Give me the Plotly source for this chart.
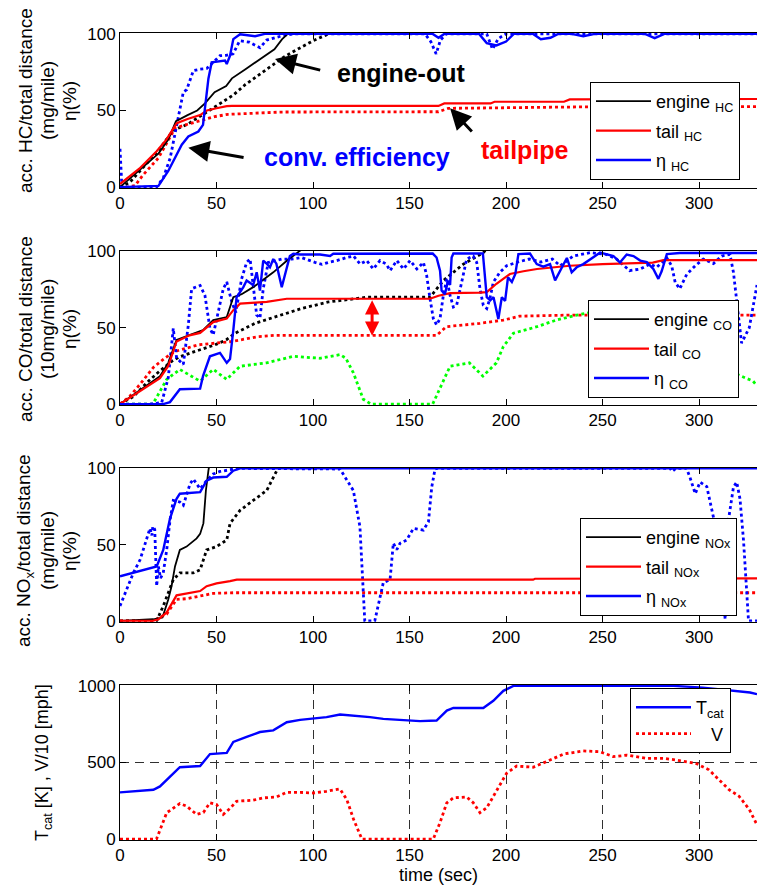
import plotly.graph_objects as go

# ---------------- data: (time [s], value) ----------------
# HC panel: accumulated emissions (mg/mile) and conversion efficiency (%)
hc_engine = [(0, 0), (10, 11), (20, 22), (25, 31), (29, 43), (35, 47), (40, 50), (44, 54.6), (49, 62),
             (55, 66), (58, 71), (65, 77), (73, 83.7), (80, 90), (84, 96.6), (87, 100), (92, 106)]
hc_engine_b = [(0, 0), (5, 3), (10, 10), (15, 17), (20, 24), (27.5, 37), (35, 41), (45, 49), (50, 53),
               (58.6, 60), (65, 67), (75, 76), (84.6, 84.7), (92, 90), (100, 95.5), (108, 100), (115, 105)]
hc_tail = [(0, 2), (10, 12), (19, 23.4), (24, 31), (29.4, 41.7), (35, 44.5), (41.5, 47), (45, 50),
           (50, 51.5), (55.3, 52.9), (58, 53), (165, 53), (168, 54.6), (192, 54.6), (194, 55.7),
           (230, 55.7), (233, 57.2), (330, 57.5)]
hc_tail_b = [(0, 0), (4, 0), (7.8, 1), (12, 8), (19.9, 19), (24, 28), (28.5, 38.5), (35, 41), (44, 43.9),
             (49, 46), (56, 47.5), (66.5, 48.2), (83.7, 49), (165, 49.2), (170, 51.4), (250, 52.5),
             (330, 52.5)]
hc_eta = [(0, 0), (19.9, 0.8), (25, 10.5), (28.5, 19), (32, 27.7), (35.4, 33), (40.6, 36.3), (43, 40.6),
          (44, 51.4), (45.8, 70.8), (47.5, 81.5), (54.4, 82.6), (55.3, 80.4), (57, 85.8), (58.7, 96.6),
          (62.2, 99.8), (70, 98.5), (75, 100), (162, 100), (165, 97.5), (168, 100), (186, 100),
          (190, 94), (195, 92.5), (200, 95), (204, 100), (214, 100), (218, 96.5), (223, 97.5),
          (227, 100), (234, 100), (240, 98.5), (246, 100), (272, 100), (277, 97.2), (282, 100),
          (330, 100)]
hc_eta_b = [(0, 25), (1, 0), (19, 0), (22.5, 6.2), (26, 19), (29.4, 40.6), (31, 51.4), (32.8, 62),
            (34.6, 63.7), (38, 76), (41.5, 77), (45, 77.5), (48.3, 81.5), (51.8, 85.8), (55, 86),
            (58.6, 87), (62, 95.5), (67, 94.6), (72.5, 91), (76, 96), (84.6, 99), (90, 100),
            (158, 100), (161, 95), (163.8, 87), (166, 96), (169, 100), (190, 100), (193, 90),
            (196, 97), (200, 100), (330, 100)]

# CO panel: accumulated emissions (10 mg/mile) and conversion efficiency (%)
co_engine = [(0, 0), (10, 9), (20.7, 18.3), (25, 27), (29.3, 42), (36.3, 45.3), (43, 48.5), (48.3, 55),
             (55.3, 57), (58.7, 70), (63, 72), (69, 76.6), (74, 81), (79.4, 86.3), (86.4, 93.9),
             (93.3, 100), (98, 105)]
co_engine_b = [(0, 0), (7, 5), (14.7, 15), (20, 21), (26.8, 28), (31, 31), (38.9, 34.5), (45, 37),
               (49.2, 38.8), (55, 42), (59.6, 46.4), (70, 52.9), (83.8, 58.3), (94, 62.6), (108, 66.9),
               (120, 69), (128, 70), (160.6, 70), (167.5, 80.9), (177.9, 91.7), (188.2, 99.2),
               (192, 104)]
co_tail = [(0, 0), (10, 8), (20.7, 17), (25, 25), (29.3, 41), (36, 45), (41.5, 46.6), (48.3, 53.7),
           (55.3, 56), (58.7, 61.5), (62.2, 65.8), (70, 66.5), (76, 66.9), (86.4, 69), (160.6, 69),
           (165, 71), (171, 72.7), (186, 73), (190, 73.3), (195, 78.8), (202, 85.2), (209, 87),
           (216, 88.5), (233, 90.6), (250, 91.7), (276, 92.7), (281.5, 94.3), (330, 94.3)]
co_tail_b = [(0, 0), (5, 5), (10.4, 13), (17.3, 24), (23.3, 30.2), (28.5, 34.5), (40.6, 38.8),
             (57.9, 41), (71.7, 44.2), (80, 45), (164, 45), (169, 50.7), (186.5, 52.9), (198.6, 55),
             (207, 57.6), (233, 58.3), (330, 58.3)]
co_third = [(0, 0), (17, 0), (24.2, 16.2), (31, 22.7), (36, 19), (41.5, 15), (48.3, 22.7), (55.3, 16.2),
            (62.2, 24.8), (76, 27), (89.8, 31.3), (103.6, 30), (114, 32.4), (117, 30), (120.9, 20.5),
            (126, 3.2), (130, 0), (162, 0), (171, 24.8), (181, 27), (188, 18.3), (195, 27),
            (198.6, 37.7), (203.8, 46.4), (216, 50.7), (226, 55), (236.6, 58.3), (244, 60),
            (328, 15), (330, 12)]
co_eta = [(0, 0), (22.4, 0), (25.9, 1.3), (31, 9.7), (41.5, 10.1), (43, 18.3), (46.6, 31.3), (51.8, 33.5),
          (55.3, 27), (57, 29.5), (58.7, 48.5), (60.4, 70), (63.9, 76.6), (65.6, 81), (69, 78),
          (70.8, 86.3), (72.5, 74.4), (74.2, 93.9), (76, 92), (77.7, 89.6), (79.4, 95), (81, 92),
          (83.8, 76.6), (85.5, 85), (88, 97), (89.8, 98.5), (93.3, 98), (103.6, 98), (108.8, 97),
          (110.5, 98.5), (162, 98.6), (164, 96), (165.8, 87.4), (166.6, 74.4), (168.3, 72), (170, 81),
          (171, 78), (171.8, 96), (172.7, 98.6), (188, 98.6), (190, 70), (191.8, 68), (193.5, 70),
          (195, 61.5), (196, 55.7), (197.8, 70), (199.5, 67.6), (201, 83), (203, 80), (204.8, 85.2),
          (206.4, 98.2), (212.4, 98.6), (215.9, 91.7), (219.3, 90), (222.8, 91.7), (225.4, 81),
          (228, 87.4), (231.5, 95.7), (234, 86.3), (236.6, 89.6), (240, 91.7), (243.6, 95),
          (248.7, 99.2), (255.6, 97), (259, 92.8), (262.5, 98), (266, 97), (269.5, 94), (272.9, 93),
          (276.3, 88.5), (278.9, 82), (280.6, 87), (283.3, 98.2), (290, 99), (330, 99)]
co_eta_b = [(0, 0), (15.5, 0), (21.6, 1), (25, 17.3), (27.6, 49.6), (29.3, 30.2), (32.8, 26), (35.4, 51.8),
            (37.1, 75.5), (41.5, 77.7), (44, 71.2), (46.6, 49.6), (48.3, 45.3), (51, 60.4), (53.5, 75.5),
            (55.3, 80), (57.9, 66.9), (60, 60), (63, 82), (65.6, 92.8), (67.4, 95), (69, 77.7),
            (70.8, 58.3), (72.5, 56.3), (74.2, 75.5), (76.8, 92.8), (83.7, 95), (88.9, 95), (94, 96),
            (101, 92.8), (104.6, 91.5), (108, 92.8), (112.3, 94), (117.5, 96), (121, 97), (124.4, 91.7),
            (127.8, 94), (131.2, 88.5), (134.7, 94), (138, 91.7), (139.9, 87.4), (143.4, 94),
            (146.9, 88.5), (150.3, 94), (153.8, 88.5), (157.2, 92.8), (158.9, 84), (160.6, 69),
            (162.3, 56.1), (164, 51.8), (165.8, 56), (167.5, 71.2), (169.3, 82), (171, 71.2),
            (172.7, 63.6), (174.4, 64.7), (177, 79.8), (179.6, 95), (183, 97), (184.8, 92.8),
            (186.5, 75.5), (188.2, 64.7), (190, 62.6), (191.6, 69), (193.4, 79.8), (196.8, 86.3),
            (200.3, 90.6), (205.5, 92.8), (212, 95), (218, 93), (224, 95), (228, 90.6), (234.9, 97),
            (243.5, 99.2), (252, 98), (257.2, 95), (264, 87.4), (269.5, 88.5), (274.6, 91.7),
            (278, 89.6), (283.3, 95.7), (285.8, 90.6), (287.6, 79.8), (290, 75.5), (293.6, 85),
            (298, 90.6), (302.2, 95), (307.4, 92), (311.7, 97), (316, 98), (317.8, 86.3), (319.5, 69),
            (322, 40), (326, 50), (330, 78)]

# NOx panel: accumulated emissions (mg/mile) and conversion efficiency (%)
nox_engine = [(0, 0), (17.3, 1), (22, 2.2), (25, 14), (26.7, 22.7), (28.5, 35.7), (31, 46.5),
              (34.5, 48.7), (39.7, 54.1), (41.5, 57), (43.2, 63.9), (44.5, 85.5), (45.8, 98.5),
              (46.5, 104)]
nox_engine_b = [(0, 0), (19, 0), (22.4, 9.7), (25, 18.4), (27.6, 27), (31, 31.4), (37.9, 31.4),
                (41.5, 33.5), (44.9, 46.5), (50, 48.7), (55.3, 53), (57, 63.9), (62.2, 72.5), (69, 79),
                (76, 85.5), (81.2, 98.5), (83, 104)]
nox_tail = [(0, 0), (17, 0), (20, 1), (24.2, 5.5), (29.3, 16.7), (34.5, 17.7), (41.5, 19.5),
            (44.9, 22.7), (50, 24.5), (57, 26), (60.5, 27), (214, 27), (215, 27.6), (330, 27.8)]
nox_tail_b = [(0, 0), (17, 0), (24.2, 4.4), (29.3, 14), (34.5, 14.5), (41.5, 16.2), (48.3, 18),
              (58.6, 18.4), (330, 18.4)]
nox_eta = [(0, 29.2), (6.9, 31.4), (19, 35.7), (22.4, 46.5), (25.9, 67.1), (29.3, 80.1), (31, 83.4),
           (41.5, 84.4), (44.9, 92), (48.3, 94), (55.3, 94.5), (58.7, 98.5), (62.2, 100), (330, 100)]
nox_eta_b = [(0, 9.7), (6.9, 31.4), (10.4, 40), (15.5, 60.6), (16.5, 56), (17, 62), (18, 60), (19, 22.7),
             (19.9, 35.7), (21, 28), (22.4, 31.4), (24.2, 46.5), (25.9, 65.8), (27.6, 79), (31, 78),
             (32.8, 75.8), (36.3, 89.9), (38, 93), (41.5, 86.6), (44.9, 92), (48.3, 96.3), (51.8, 98),
             (58.7, 99.5), (62, 100), (114, 99.6), (120.9, 85.5), (124.3, 61.7), (126.8, 0), (132, 0),
             (134.7, 16.2), (136.4, 25), (139.9, 27), (141.6, 50.9), (143.4, 46.7), (145.1, 50.9),
             (148.5, 53), (152, 60.6), (157.2, 59.5), (159.8, 65), (161.5, 87.7), (163.2, 99.6),
             (164, 100), (285, 100), (286, 98), (288, 100), (293.5, 100), (295.3, 94), (298, 83.4),
             (300.5, 91), (304, 88), (307.4, 68.2), (310.9, 42.2), (313.5, 1), (315.2, 66),
             (317.8, 87.7), (319.5, 91), (321.2, 80), (323, 53), (325.6, 0), (330, 0)]

# catalyst temperature [K] and vehicle speed / 10 [mph]
t_cat = [(0, 305), (6.9, 312), (17.3, 322), (20.7, 344), (24.2, 387), (27.6, 430), (31, 469), (41.5, 477),
         (44, 516), (46.6, 555), (55.3, 563), (58.7, 634), (65.6, 667), (72.5, 699), (79.4, 710),
         (86.4, 763), (93.3, 778), (100, 785), (107, 796), (114, 813), (121, 806), (129.5, 796),
         (136.4, 785), (146.8, 779), (155.4, 770), (164, 774), (169.3, 839), (172.7, 856),
         (188.2, 856), (193.4, 903), (198.6, 968), (203.8, 1000), (286.7, 1000), (302, 989),
         (310.6, 978), (326.4, 957), (330, 946)]
speed = [(0, 0), (18.9, 0), (24.2, 172), (31, 232), (34.5, 215), (39.7, 161), (43.2, 174), (46.6, 237),
         (50, 226), (53.5, 161), (57, 200), (60.4, 247), (69, 254), (74.2, 269), (81, 275),
         (86.4, 305), (93.3, 305), (100, 301), (107, 312), (114, 327), (117.5, 258), (121, 129),
         (125.3, 0), (162.3, 0), (165.8, 108), (169.3, 237), (172.7, 269), (179.6, 275), (183, 237),
         (186.5, 172), (190, 204), (195, 312), (200.3, 430), (205.5, 477), (214, 469), (222.8, 516),
         (229.7, 555), (240, 576), (248.7, 570), (255.6, 538), (262.5, 548), (272.9, 527),
         (281.5, 527), (288.4, 516), (298.2, 495), (305.1, 452), (310.3, 387), (315.5, 323),
         (320.7, 280), (326, 194), (329.4, 108), (330, 95)]

time_ticks = [0, 50, 100, 150, 200, 250, 300]
pct_ticks = [0, 50, 100]
temp_ticks = [0, 500, 1000]

# ---------------- figure ----------------
BLUE, RED, BLACK, GREEN = "#0000ff", "#ff0000", "#000000", "#00ff00"
FONT = "Liberation Sans, Arial, sans-serif"
W, H, L = 757, 888, 120
PW = W - L
DOT_W = 2.8

fig = go.Figure()


def add(series, color, dash, width, panel, name=None, legend=None):
    suffix = "" if panel == 1 else str(panel)
    fig.add_trace(go.Scatter(
        x=[p[0] for p in series], y=[p[1] for p in series], mode="lines",
        line=dict(color=color, width=width, dash=dash),
        xaxis="x" + suffix, yaxis="y" + suffix,
        name=name, showlegend=name is not None, legend=legend,
        legendgroup=name if name else None, hoverinfo="skip"))


# dotted companions first, solid curves on top
add(hc_engine_b, BLACK, "dot", DOT_W, 1)
add(hc_tail_b, RED, "dot", DOT_W, 1)
add(hc_eta_b, BLUE, "dot", DOT_W, 1)
add(hc_engine, BLACK, "solid", 1.8, 1, "engine <sub>HC</sub>", "legend")
add(hc_tail, RED, "solid", 2.2, 1, "tail <sub>HC</sub>", "legend")
add(hc_eta, BLUE, "solid", 2.4, 1, "η <sub>HC</sub>", "legend")

add(co_engine_b, BLACK, "dot", DOT_W, 2)
add(co_tail_b, RED, "dot", DOT_W, 2)
add(co_third, GREEN, "dot", DOT_W, 2)
add(co_eta_b, BLUE, "dot", DOT_W, 2)
add(co_engine, BLACK, "solid", 1.8, 2, "engine <sub>CO</sub>", "legend2")
add(co_tail, RED, "solid", 2.2, 2, "tail <sub>CO</sub>", "legend2")
add(co_eta, BLUE, "solid", 2.4, 2, "η <sub>CO</sub>", "legend2")

add(nox_engine_b, BLACK, "dot", DOT_W, 3)
add(nox_tail_b, RED, "dot", DOT_W, 3)
add(nox_eta_b, BLUE, "dot", DOT_W, 3)
add(nox_engine, BLACK, "solid", 1.8, 3, "engine <sub>NOx</sub>", "legend3")
add(nox_tail, RED, "solid", 2.2, 3, "tail <sub>NOx</sub>", "legend3")
add(nox_eta, BLUE, "solid", 2.4, 3, "η <sub>NOx</sub>", "legend3")

add(t_cat, BLUE, "solid", 2.4, 4, "T<sub>cat</sub>", "legend4")
add(speed, RED, "dot", DOT_W, 4, "   V", "legend4")


def px_y(py):
    return 1 - py / H


def px_x(px):
    return (px - L) / PW


panels = [(33, 188), (250.5, 405), (467.5, 621.7), (685, 840)]
layout = dict(
    width=W, height=H, autosize=False,
    margin=dict(l=L, r=0, t=0, b=0, pad=0, autoexpand=False),
    paper_bgcolor="white", plot_bgcolor="white",
    font=dict(family=FONT, size=17, color="black"),
    showlegend=True,
)
for i, (top, bot) in enumerate(panels, start=1):
    sfx = "" if i == 1 else str(i)
    is_temp = i == 4
    layout["xaxis" + sfx] = dict(
        domain=[0, 1], anchor="y" + sfx, range=[0, 330], tickvals=time_ticks, automargin=False,
        ticks="inside", ticklen=6, tickcolor="black", showline=True, linecolor="black",
        linewidth=1, mirror="ticks", zeroline=False, tickfont=dict(size=17),
        showgrid=is_temp, gridcolor="#303030", gridwidth=1, griddash="9px,6px",
    )
    layout["yaxis" + sfx] = dict(
        domain=[px_y(bot), px_y(top)], anchor="x" + sfx, automargin=False,
        range=[-6, 1006] if is_temp else [-0.6, 100.6],
        tickvals=temp_ticks if is_temp else pct_ticks,
        ticks="inside", ticklen=6, tickcolor="black", showline=True, linecolor="black",
        linewidth=1, zeroline=False, tickfont=dict(size=17),
        showgrid=is_temp, gridcolor="#303030", gridwidth=1, griddash="9px,6px",
    )

leg_common = dict(xanchor="left", yanchor="top", bgcolor="white", bordercolor="black",
                  borderwidth=1, font=dict(size=18, family=FONT), itemwidth=55,
                  traceorder="grouped", tracegroupgap=3, itemclick=False)
layout["legend"] = dict(x=px_x(590), y=px_y(82), **leg_common)
layout["legend2"] = dict(x=px_x(588), y=px_y(300), **leg_common)
layout["legend3"] = dict(x=px_x(580), y=px_y(518), **leg_common)
layout["legend4"] = dict(x=px_x(630), y=px_y(688), **{**leg_common, "tracegroupgap": 0})

annotations = []
# axis labels
ylabels = [
    (101, ["acc. HC/total distance", "(mg/mile)", "η(%)"]),
    (329, ["acc. CO/total distance", "(10mg/mile)", "η(%)"]),
    (551, ["acc. NO<sub>x</sub>/total distance", "(mg/mile)", "η(%)"]),
]
for cy, lines in ylabels:
    for k, txt in enumerate(lines):
        annotations.append(dict(text=txt, xref="paper", yref="paper", x=px_x(25 + 22 * k), y=px_y(cy),
                                textangle=-90, showarrow=False, font=dict(size=19),
                                xanchor="center", yanchor="middle"))
annotations.append(dict(text="T<sub>cat</sub> [K] , V/10 [mph]", xref="paper", yref="paper",
                        x=px_x(43), y=px_y(763), textangle=-90, showarrow=False,
                        font=dict(size=18), xanchor="center", yanchor="middle"))
annotations.append(dict(text="time (sec)", xref="x4", yref="paper", x=165, y=px_y(875),
                        showarrow=False, font=dict(size=18), xanchor="center", yanchor="middle"))

# call-outs in the HC panel
annotations += [
    dict(text="<b>engine-out</b>", xref="x", yref="y", x=145.6, y=74.2, showarrow=False,
         font=dict(size=25, color=BLACK)),
    dict(text="<b>conv. efficiency</b>", xref="x", yref="y", x=123, y=19.4, showarrow=False,
         font=dict(size=25, color=BLUE)),
    dict(text="<b>tailpipe</b>", xref="x", yref="y", x=210, y=24.5, showarrow=False,
         font=dict(size=25, color=RED)),
]
for tip, tail in [((80.3, 83.7), (104.5, 76.1)), ((35.4, 25.6), (64.8, 19.2)), ((171, 51.4), (183, 35.3))]:
    annotations.append(dict(text="", xref="x", yref="y", axref="x", ayref="y",
                            x=tip[0], y=tip[1], ax=tail[0], ay=tail[1], showarrow=True,
                            arrowhead=2, arrowsize=1.4, arrowwidth=3, arrowcolor=BLACK, standoff=0))
# gap between engine-out and tailpipe CO
annotations.append(dict(text="", xref="x2", yref="y2", axref="x2", ayref="y2",
                        x=130.6, y=44.7, ax=130.6, ay=69, showarrow=True, arrowside="end+start",
                        arrowhead=2, startarrowhead=2, arrowsize=0.95, startarrowsize=0.95,
                        arrowwidth=3, arrowcolor=RED, standoff=0, startstandoff=0))
layout["annotations"] = annotations

fig.update_layout(**layout)
fig.write_html("out.html")
